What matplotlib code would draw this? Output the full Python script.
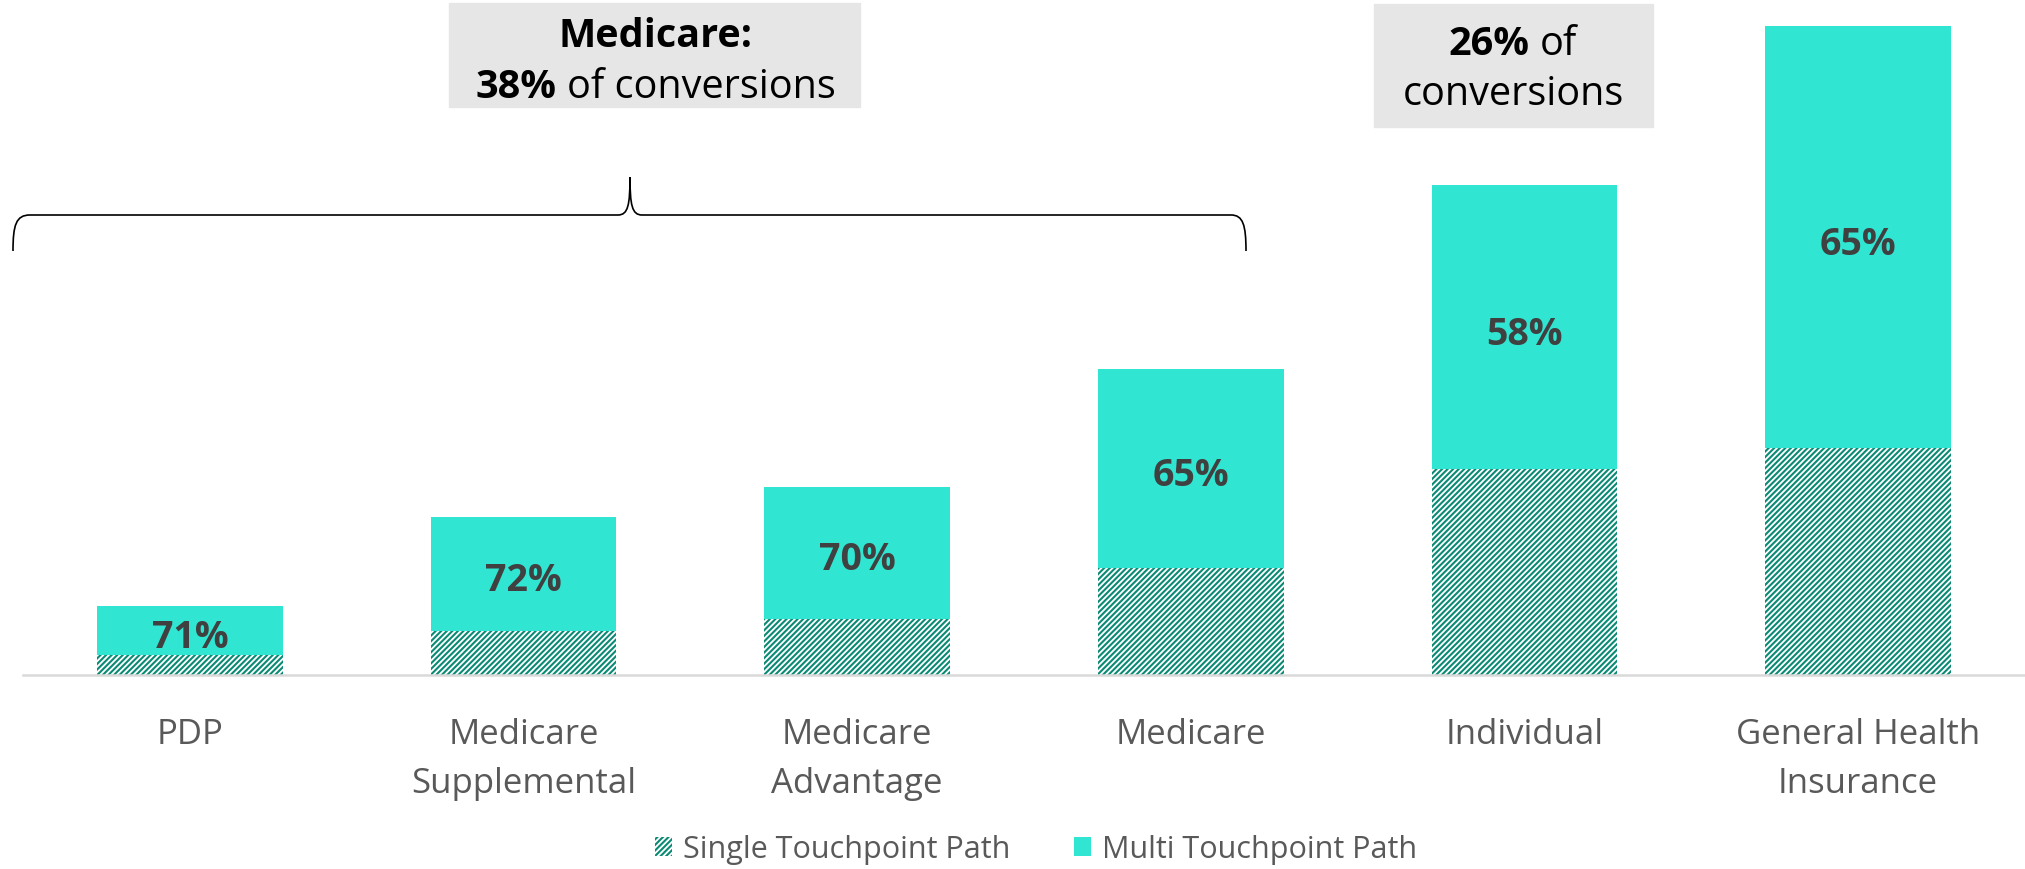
import matplotlib
matplotlib.use("Agg")
import matplotlib.pyplot as plt
import matplotlib.patches as mpatches
from matplotlib.path import Path
import numpy as np

# data
categories = ["PDP", "Medicare\nSupplemental", "Medicare\nAdvantage",
              "Medicare", "Individual", "General Health\nInsurance"]
totals = [53, 122, 145, 236, 378, 501]
multi_share = [0.71, 0.72, 0.70, 0.65, 0.58, 0.65]
share_labels = ["71%", "72%", "70%", "65%", "58%", "65%"]
series_names = ["Single Touchpoint Path", "Multi Touchpoint Path"]

single = [t * (1 - s) for t, s in zip(totals, multi_share)]
multi = [t * s for t, s in zip(totals, multi_share)]

W, H = 2025, 870
FONT = "Open Sans"
CYAN = "#30E6D2"
TEAL = "#0A8A74"
plt.rcParams["font.family"] = [FONT, "DejaVu Sans"]
plt.rcParams["hatch.linewidth"] = 1.5
plt.rcParams["hatch.color"] = TEAL

fig = plt.figure(figsize=(W / 100, H / 100), dpi=100)

def fx(x):
    return x / W

def fy(y):
    return 1 - y / H

ax = fig.add_axes([fx(23), fy(676), (W - 23) / W, 676 / H])
x = np.arange(len(categories))
bw = 0.556
ax.bar(x, single, bw, color="white", edgecolor=TEAL, hatch="//////", linewidth=0,
       label=series_names[0])
ax.bar(x, multi, bw, bottom=single, color=CYAN, linewidth=0, label=series_names[1])

for xi, s, m, lab in zip(x, single, multi, share_labels):
    ax.text(xi, s + m / 2 - 5, lab, ha="center", va="center", fontsize=27,
            fontweight="bold", color="#404040")

ax.set_xlim(-0.5, 5.5)
ax.set_ylim(0, 522)
ax.set_xticks(x)
ax.set_xticklabels(categories, fontsize=25, color="#595959", linespacing=1.6)
ax.tick_params(axis="x", length=0, pad=30)
ax.set_yticks([])
for side in ["top", "left", "right"]:
    ax.spines[side].set_visible(False)
ax.spines["bottom"].set_color("#D9D9D9")
ax.spines["bottom"].set_linewidth(1.8)

# legend
fig.legend(loc="center", bbox_to_anchor=(fx(1036), fy(850)), ncol=2, frameon=False,
           fontsize=22, labelcolor="#595959", handlelength=0.56, handleheight=0.56,
           handletextpad=0.36, columnspacing=2.1, borderpad=0)

# grey callout boxes
def box(x0, y0, x1, y1):
    fig.patches.append(mpatches.Rectangle((fx(x0), fy(y1)), (x1 - x0) / W, (y1 - y0) / H,
                                          transform=fig.transFigure, color="#E6E6E6",
                                          zorder=0))

box(449, 4, 860, 108)
box(1374, 5, 1653, 128)

renderer = fig.canvas.get_renderer()

def mixed_line(xc, yb, parts, size=28.5):
    gap = 0.27 * size * 100 / 72
    texts, widths = [], []
    for s, w in parts:
        t = fig.text(0, fy(yb), s, fontsize=size, fontweight=w, color="black",
                     va="baseline", ha="left")
        texts.append(t)
        widths.append(t.get_window_extent(renderer).width)
    total = sum(widths) + gap * (len(parts) - 1)
    pos = xc - total / 2
    for t, w in zip(texts, widths):
        t.set_x(fx(pos))
        pos += w + gap

mixed_line(656, 47, [("Medicare:", "bold")])
mixed_line(656, 98, [("38%", "bold"), ("of conversions", "normal")])
mixed_line(1513, 55, [("26%", "bold"), ("of", "normal")])
mixed_line(1513, 105, [("conversions", "normal")])

# curly brace over the Medicare group
verts = [(13, 252), (13, 226), (16, 216), (30, 216),
         (618, 216),
         (628, 216), (630, 206), (630, 178),
         (630, 206), (632, 216), (642, 216),
         (1231, 216),
         (1243, 216), (1246, 226), (1246, 252)]
codes = [Path.MOVETO, Path.CURVE4, Path.CURVE4, Path.CURVE4,
         Path.LINETO,
         Path.CURVE4, Path.CURVE4, Path.CURVE4,
         Path.CURVE4, Path.CURVE4, Path.CURVE4,
         Path.LINETO,
         Path.CURVE4, Path.CURVE4, Path.CURVE4]
verts = [(fx(a), fy(b)) for a, b in verts]
brace = mpatches.PathPatch(Path(verts, codes), transform=fig.transFigure,
                           facecolor="none", edgecolor="black", linewidth=1.2)
fig.patches.append(brace)

fig.savefig("out.png", dpi=100, facecolor="white")
